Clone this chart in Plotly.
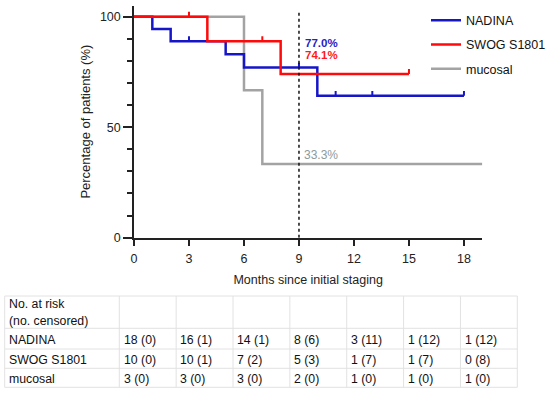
import plotly.graph_objects as go

# ---- data ----
series_names = ["NADINA", "SWOG S1801", "mucosal"]

nadina_months = [0, 1, 2, 5, 6, 10, 18]
nadina_surv = [100, 94.4, 88.9, 83.0, 77.0, 64.2, 64.2]
nadina_cens_months = [3, 9, 11, 13, 18]
nadina_cens_surv = [88.9, 77.0, 64.2, 64.2, 64.2]

swog_months = [0, 4, 8, 15]
swog_surv = [100, 88.9, 74.1, 74.1]
swog_cens_months = [3, 7, 15]
swog_cens_surv = [100, 88.9, 74.1]

mucosal_months = [0, 6, 7, 19]
mucosal_surv = [100, 66.7, 33.3, 33.3]

landmark_month = 9
landmark_labels = ["77.0%", "74.1%", "33.3%"]

x_ticks = [0, 3, 6, 9, 12, 15, 18]
y_ticks = [0, 50, 100]

risk_header = ["No. at risk", "(no. censored)"]
risk_times = [0, 3, 6, 9, 12, 15, 18]
risk_nadina = ["18 (0)", "16 (1)", "14 (1)", "8 (6)", "3 (11)", "1 (12)", "1 (12)"]
risk_swog = ["10 (0)", "10 (1)", "7 (2)", "5 (3)", "1 (7)", "1 (7)", "0 (8)"]
risk_mucosal = ["3 (0)", "3 (0)", "3 (0)", "2 (0)", "1 (0)", "1 (0)", "1 (0)"]

# ---- style ----
BLUE = "#1616c8"
RED = "#ff0a0a"
GRAY = "#a3a3a3"
AXIS = "#222222"
TXT = "#111111"
GRID = "#e2e2e2"
FONT = "Liberation Sans, Arial, sans-serif"
W, H = 550, 393

fig = go.Figure()

def step(x, y, name, color, rank):
    fig.add_trace(go.Scatter(x=x, y=y, mode="lines", line=dict(color=color, width=2.5, shape="hv"),
                             name=name, legendrank=rank, legendgroup=name))

def censor(x, y, color):
    fig.add_trace(go.Scatter(x=x, y=y, mode="markers", marker=dict(size=2, opacity=0, color=color),
                             showlegend=False, hoverinfo="skip",
                             error_y=dict(type="data", symmetric=False, array=[2.2] * len(x),
                                          arrayminus=[0] * len(x), thickness=2, width=0, color=color)))

step(mucosal_months, mucosal_surv, series_names[2], GRAY, 3)
step(nadina_months, nadina_surv, series_names[0], BLUE, 1)
censor(nadina_cens_months, nadina_cens_surv, BLUE)
step(swog_months, swog_surv, series_names[1], RED, 2)
censor(swog_cens_months, swog_cens_surv, RED)

# landmark line
fig.add_shape(type="line", xref="x", yref="y", x0=landmark_month, x1=landmark_month, y0=0, y1=102,
              line=dict(color="#111111", width=1.5, dash="dot"))

fig.add_annotation(x=landmark_month + 0.24, y=88.2, text="<b>%s</b>" % landmark_labels[0], showarrow=False,
                   xanchor="left", yanchor="middle", font=dict(color="#2323c8", size=11.5, family=FONT))
fig.add_annotation(x=landmark_month + 0.24, y=82.6, text="<b>%s</b>" % landmark_labels[1], showarrow=False,
                   xanchor="left", yanchor="middle", font=dict(color="#ff1a1a", size=11.5, family=FONT))
fig.add_annotation(x=landmark_month + 0.15, y=37.4, text=landmark_labels[2], showarrow=False,
                   xanchor="left", yanchor="middle", font=dict(color="#8b9b9b", size=12, family=FONT))

# ---- risk table (paper coordinates, px -> fraction) ----
def px(x):
    return x / W

def py(y):
    return (H - y) / H

t_left, t_right = 4.7, 517.3
t_top, t_bottom = 296, 387.3
first_w = 114.6
ncol = len(risk_times)
col_w = (t_right - t_left - first_w) / ncol
row_lines = [t_top, 328.3, 349.0, 368.3, t_bottom]
col_lines = [t_left] + [t_left + first_w + i * col_w for i in range(ncol + 1)]

for yl in row_lines:
    fig.add_shape(type="line", xref="paper", yref="paper", x0=px(t_left), x1=px(t_right), y0=py(yl), y1=py(yl),
                  line=dict(color=GRID, width=1))
for xl in col_lines:
    fig.add_shape(type="line", xref="paper", yref="paper", x0=px(xl), x1=px(xl), y0=py(t_top), y1=py(t_bottom),
                  line=dict(color=GRID, width=1))

def cell_text(x, y, text):
    fig.add_annotation(xref="paper", yref="paper", x=px(x), y=py(y), text=text, showarrow=False,
                       xanchor="left", yanchor="middle", font=dict(family=FONT, size=12.3, color=TXT))

cell_text(t_left + 2.5, 303.5, risk_header[0])
cell_text(t_left + 2.5, 321.0, risk_header[1])
rows = [risk_nadina, risk_swog, risk_mucosal]
for r, vals in enumerate(rows):
    yc = (row_lines[r + 1] + row_lines[r + 2]) / 2 + 1.2
    cell_text(t_left + 2.5, yc, series_names[r])
    for c, v in enumerate(vals):
        cell_text(col_lines[c + 1] + 2.2, yc, v)

x0px, x1px = 134, 482.3
y0px, y1px = 237.7, 5.6

fig.update_layout(
    width=W, height=H,
    margin=dict(l=0, r=0, t=0, b=0, autoexpand=False),
    paper_bgcolor="white", plot_bgcolor="white",
    font=dict(family=FONT, size=12.5, color=AXIS),
    showlegend=True,
    legend=dict(x=px(426), y=py(5.5), xanchor="left", yanchor="top",
                bgcolor="rgba(0,0,0,0)", font=dict(size=12.5, color=TXT),
                tracegroupgap=5, itemwidth=30),
    xaxis=dict(domain=[px(x0px), px(x1px)], range=[0, 19], showgrid=False, zeroline=False,
               showline=True, linecolor=AXIS, linewidth=1.5,
               ticks="outside", ticklen=7, tickwidth=1.5, tickcolor=AXIS,
               tickvals=x_ticks, tickfont=dict(size=12.5), ticklabelstandoff=2,
               title=dict(text="Months since initial staging", font=dict(size=12.5), standoff=10)),
    yaxis=dict(domain=[py(y0px), py(y1px)], range=[0, 105], showgrid=False, zeroline=False,
               showline=True, linecolor=AXIS, linewidth=1.5,
               ticks="outside", ticklen=9, tickwidth=1.5, tickcolor=AXIS,
               tickvals=y_ticks, tickfont=dict(size=12.5),
               minor=dict(dtick=10, tick0=0, ticks="outside", ticklen=5, tickwidth=1.5, tickcolor=AXIS),
               title=dict(text="Percentage of patients (%)", font=dict(size=13), standoff=6)),
)

fig.write_html("out.html", config={"displayModeBar": False},
               post_script="document.body.style.margin='0';")
